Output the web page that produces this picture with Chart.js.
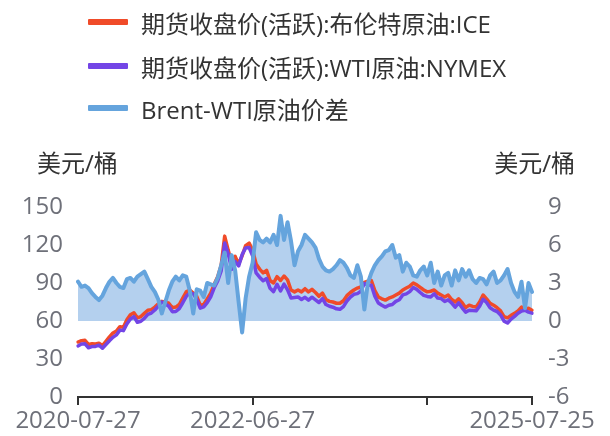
<!DOCTYPE html>
<html>
<head>
<meta charset="utf-8">
<script src="https://cdn.jsdelivr.net/npm/chart.js@4.4.1/dist/chart.umd.min.js"></script>
<style>
html, body { margin: 0; padding: 0; background: #fff; }
#wrap { position: relative; width: 610px; height: 436px; overflow: hidden;
	font-family: "Open Sans", "Noto Sans CJK SC", sans-serif; }
#chart { position: absolute; left: 0; top: 0; }
.item { position: absolute; left: 88px; height: 30px; display: flex;
	align-items: center; white-space: nowrap; font-size: 24px; color: #333; }
.swatch { width: 40px; height: 6px; margin-right: 13px; border-radius: 1px; }
.unit { position: absolute; top: 148px; height: 30px; line-height: 30px;
	font-size: 24px; color: #333; white-space: nowrap; }
</style>
</head>
<body>
<div id="wrap">
	<canvas id="chart" width="610" height="436"></canvas>
	<div id="legend"></div>
	<div class="unit" style="left:37px">美元/桶</div>
	<div class="unit" style="right:35px">美元/桶</div>
</div>
<script>
/*
 * Series names and colours, in legend order.
 */
const seriesNames = [
	'期货收盘价(活跃):布伦特原油:ICE',
	'期货收盘价(活跃):WTI原油:NYMEX',
	'Brent-WTI原油价差',
];
const seriesColors = ['#f04b29', '#7345e6', '#65a4dd'];
const fillColor = '#b4d0ee';

/*
 * Two-weekly closes, from 2020-07-27 to 2025-07-25.
 */
const brent = [
	43.4, 44.5, 44.8, 41.5, 42.0, 41.8, 42.5, 40.5, 44.0, 47.5,
	50.5, 52.0, 55.5, 55.0, 61.0, 65.0, 66.5, 62.5, 63.5, 66.0,
	68.5, 69.0, 71.0, 73.5, 75.5, 75.0, 74.0, 70.5, 71.0, 73.0,
	78.0, 83.0, 84.5, 82.0, 79.5, 72.5, 73.0, 77.5, 82.0, 89.0,
	95.0, 104.0, 127.0, 116.0, 106.0, 111.0, 105.0, 111.5, 119.5, 121.5,
	116.0, 105.0, 101.0, 98.0, 100.0, 92.0, 90.0, 95.0, 92.0, 95.5,
	92.5, 84.5, 83.0, 84.5, 83.0, 85.5, 83.0, 85.0, 82.5, 79.5,
	82.0, 77.0, 75.5, 75.0, 74.0, 74.0, 76.0, 80.0, 82.5, 84.5,
	86.0, 87.0, 90.5, 91.5, 92.0, 84.0, 79.0, 77.5, 76.5, 78.0,
	79.0, 80.5, 82.0, 84.5, 86.0, 87.5, 90.0, 88.5, 86.5, 84.5,
	83.0, 83.5, 84.5, 82.0, 80.5, 79.0, 80.5, 77.0, 75.0, 77.5,
	74.5, 70.5, 72.5, 71.5, 71.0, 75.0, 80.5, 77.5, 74.0, 72.5,
	70.5, 68.0, 63.5, 62.5, 64.5, 66.0, 68.0, 71.0, 69.5, 70.0,
	68.5,
];
const wti = [
	40.3, 41.8, 42.0, 38.9, 39.8, 39.9, 40.9, 38.5, 41.4, 44.4,
	47.1, 49.0, 52.8, 52.4, 57.7, 61.6, 63.4, 59.0, 59.8, 62.1,
	65.2, 66.3, 68.7, 71.8, 74.9, 73.5, 71.6, 67.4, 67.5, 69.8,
	74.4, 79.5, 82.1, 81.4, 77.0, 70.1, 71.1, 74.5, 79.1, 86.2,
	91.6, 99.6, 121.6, 113.0, 100.8, 107.0, 103.5, 112.4, 117.7, 118.0,
	111.4, 98.0, 94.6, 91.8, 93.5, 85.8, 83.2, 89.0, 83.7, 89.1,
	84.7, 78.2, 78.6, 79.0, 77.0, 78.7, 76.5, 78.8, 76.7, 74.6,
	77.7, 73.0, 71.6, 70.9, 69.6, 69.2, 71.4, 75.8, 78.9, 81.1,
	81.6, 83.5, 89.6, 88.5, 88.2, 79.6, 74.2, 72.4, 71.0, 72.4,
	73.0, 75.5, 76.8, 80.6, 81.4, 83.2, 86.4, 85.0, 82.5, 80.2,
	79.4, 78.9, 81.5, 78.1, 77.7, 75.4, 76.7, 74.2, 71.0, 74.3,
	70.4, 67.0, 68.5, 68.2, 68.0, 71.6, 77.2, 74.6, 70.4, 68.6,
	67.5, 64.8, 59.9, 58.4, 61.5, 63.7, 66.1, 67.9, 68.5, 67.0,
	66.2,
];
const spread = [
	3.1, 2.7, 2.8, 2.6, 2.2, 1.9, 1.65, 2.0, 2.6, 3.1,
	3.4, 3.0, 2.7, 2.6, 3.3, 3.4, 3.1, 3.5, 3.7, 3.9,
	3.3, 2.7, 2.3, 1.7, 0.6, 1.5, 2.4, 3.1, 3.5, 3.2,
	3.6, 3.5, 2.4, 0.6, 2.5, 2.4, 1.9, 3.0, 2.9, 2.8,
	3.4, 4.4, 5.4, 3.0, 5.2, 4.0, 1.5, -0.9, 1.8, 3.5,
	4.6, 7.0, 6.4, 6.2, 6.5, 6.2, 6.8, 6.0, 8.3, 6.4,
	7.8, 6.3, 4.4, 5.5, 6.0, 6.8, 6.5, 6.2, 5.8, 4.9,
	4.3, 4.0, 3.9, 4.1, 4.4, 4.8, 4.6, 4.2, 3.6, 3.4,
	4.4, 3.5, 0.9, 3.0, 3.8, 4.4, 4.8, 5.1, 5.5, 5.6,
	6.0, 5.0, 5.2, 3.9, 4.6, 4.3, 3.6, 3.5, 4.0, 4.3,
	3.6, 4.6, 3.0, 3.9, 2.8, 3.6, 3.8, 2.8, 4.0, 3.2,
	4.1, 3.5, 4.0, 3.3, 3.0, 3.4, 3.3, 2.9, 3.6, 3.9,
	3.0, 3.2, 3.6, 4.1, 3.0, 2.3, 1.9, 3.1, 1.0, 3.0,
	2.3,
];

/*
 * Only these positions get a tick; the third label is hidden in the original.
 */
const tickIndex = [0, 50, 100, 130];
const tickText = ['2020-07-27', '2022-06-27', '', '2025-07-25'];

const tickFont = { family: '"Open Sans", "Noto Sans CJK SC", sans-serif', size: 24 };
const tickColor = '#6e7079';

function buildLegend()
{
	const box = document.getElementById('legend');
	const tops = [7, 51, 93];
	seriesNames.forEach((name, i) => {
		const item = document.createElement('div');
		item.className = 'item';
		item.style.top = tops[i] + 'px';
		const sw = document.createElement('span');
		sw.className = 'swatch';
		sw.style.background = seriesColors[i];
		item.append(sw);
		item.append(document.createTextNode(name));
		box.append(item);
	});
}

function drawChart()
{
	const start = Date.UTC(2020, 6, 27);
	const dates = brent.map((v, i) =>
		new Date(start + i * 14 * 864e5).toISOString().slice(0, 10));
	dates[dates.length - 1] = '2025-07-25';

	const line = (label, data, color, axis, order, width) => ({
		label: label,
		data: data,
		yAxisID: axis,
		borderColor: color,
		borderWidth: width,
		borderJoinStyle: 'round',
		borderCapStyle: 'round',
		pointRadius: 0,
		tension: 0,
		fill: false,
		order: order,
	});

	new Chart(document.getElementById('chart'), {
		type: 'line',
		data: {
			labels: dates,
			datasets: [
				line(seriesNames[2], spread, seriesColors[2], 'y1', 0, 4),
				line(seriesNames[1], wti, seriesColors[1], 'y', 1, 3.5),
				line(seriesNames[0], brent, seriesColors[0], 'y', 2, 3.5),
				{
					label: 'area',
					data: spread,
					yAxisID: 'y1',
					borderWidth: 0,
					pointRadius: 0,
					backgroundColor: fillColor,
					fill: 'origin',
					order: 3,
				},
			],
		},
		options: {
			responsive: false,
			animation: false,
			devicePixelRatio: 1,
			layout: {
				padding: { top: 207, left: 0, right: 0, bottom: 0 },
			},
			plugins: {
				legend: { display: false },
				tooltip: { enabled: false },
			},
			scales: {
				x: {
					afterBuildTicks: (scale) => {
						scale.ticks = tickIndex.map(v => ({ value: v }));
					},
					afterFit: (scale) => { scale.height = 39; },
					ticks: {
						autoSkip: false,
						maxRotation: 0,
						minRotation: 0,
						padding: 2,
						color: tickColor,
						font: tickFont,
						callback: (value, index) => tickText[index],
					},
					grid: {
						display: true,
						drawOnChartArea: false,
						drawTicks: true,
						tickLength: 8,
						lineWidth: 2,
						color: '#333',
					},
					border: { display: true, color: '#333', width: 2 },
				},
				y: {
					position: 'left',
					min: 0,
					max: 150,
					afterFit: (scale) => { scale.width = 78; },
					ticks: {
						stepSize: 30,
						padding: 15,
						color: tickColor,
						font: tickFont,
					},
					grid: { display: false, drawTicks: false },
					border: { display: false },
				},
				y1: {
					position: 'right',
					min: -6,
					max: 9,
					afterFit: (scale) => { scale.width = 78; },
					ticks: {
						stepSize: 3,
						padding: 16,
						color: tickColor,
						font: tickFont,
					},
					grid: { display: false, drawTicks: false },
					border: { display: false },
				},
			},
		},
	});
}

window.addEventListener('load', () => {
	buildLegend();
	drawChart();
});
</script>
</body>
</html>
